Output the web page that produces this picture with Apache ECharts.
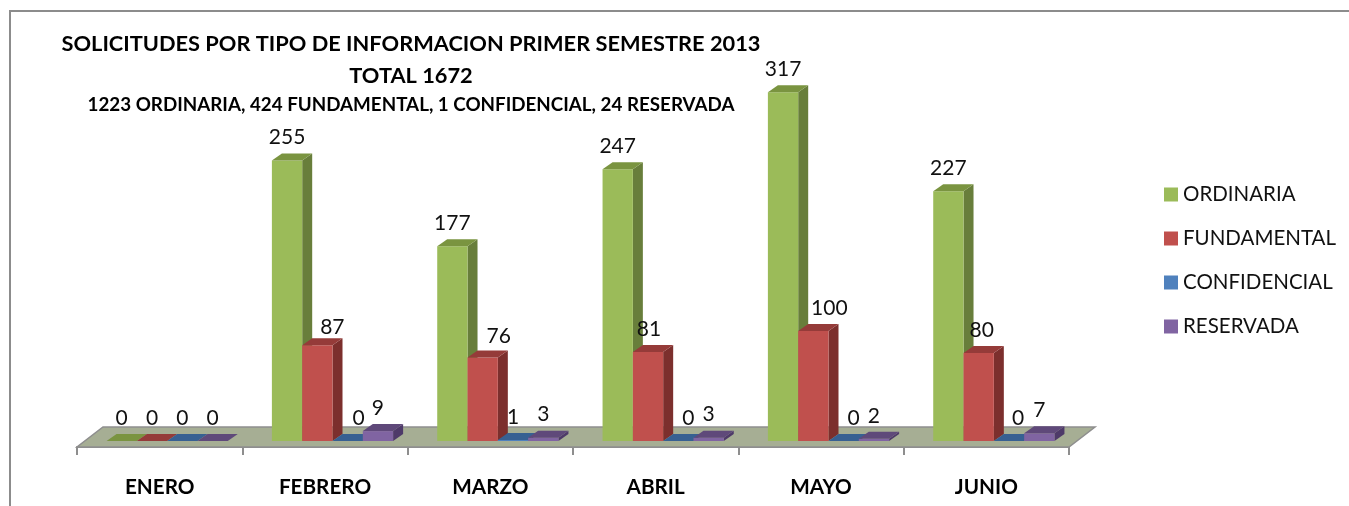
<!DOCTYPE html>
<html>
<head>
<meta charset="utf-8">
<title>Solicitudes</title>
<script src="https://cdn.jsdelivr.net/npm/echarts@6/dist/echarts.min.js"></script>
<style>
html,body{margin:0;padding:0;background:#fff;}
#chart{width:1349px;height:506px;}
</style>
</head>
<body>
<div id="chart"></div>
<script>
var meses=["ENERO","FEBRERO","MARZO","ABRIL","MAYO","JUNIO"];
var nombres=["ORDINARIA","FUNDAMENTAL","CONFIDENCIAL","RESERVADA"];
var ordinaria=[0,255,177,247,317,227];
var fundamental=[0,87,76,81,100,80];
var confidencial=[0,0,1,0,0,0];
var reservada=[0,9,3,3,2,7];
var valores=[ordinaria,fundamental,confidencial,reservada];

var frente=["#9BBB59","#C0504D","#4F81BD","#8064A2"];
var arriba=["#7A9440","#953B39","#376092","#5F497A"];
var lado=["#687E3B","#7C2F2D","#2F5178","#4E3A69"];

//etiquetas que en el original estan movidas a mano
var moverEtiqueta={"1_1":[15,5],"1_2":[16,2],"1_3":[1,0],"1_4":[16,0],"1_5":[3,0],
                   "2_1":[11,0],"2_3":[10,0],"2_4":[10,0],"2_5":[9,0]};

var fuente="Lato";
var fondoX=26, fondoY=20;     //fondo del piso
var barraX=10, barraY=7;      //fondo de cada barra
var frenteX=7.5, frenteY=6;   //donde empieza la barra sobre el piso

function dibujarBarra(s){
    return function(params,api){
        var i=api.value(0);
        var v=api.value(1);
        var base=api.coord([i,0]);
        var punta=api.coord([i,v]);
        var ancho=api.size([1,0])[0]*0.1833;
        var x0=base[0]+frenteX+(s-2)*ancho;
        var x1=x0+ancho;
        var y0=base[1]-frenteY;
        var y1=punta[1]-frenteY;
        var hijos=[];
        if(v>0){
            hijos.push({type:"polygon",shape:{points:[[x1,y0],[x1+barraX,y0-barraY],[x1+barraX,y1-barraY],[x1,y1]]},style:{fill:lado[s]}});
            hijos.push({type:"rect",shape:{x:x0,y:y1,width:ancho,height:y0-y1},style:{fill:frente[s]}});
        }
        hijos.push({type:"polygon",shape:{points:[[x0,y1],[x1,y1],[x1+barraX,y1-barraY],[x0+barraX,y1-barraY]]},style:{fill:arriba[s]}});
        var mover=moverEtiqueta[s+"_"+i]||[0,0];
        hijos.push({type:"text",z2:50,style:{text:String(v),x:(x0+x1)/2+mover[0],y:y1-23+mover[1],align:"center",verticalAlign:"middle",fill:"#111",font:"21px "+fuente}});
        return {type:"group",children:hijos};
    };
}

function dibujarPiso(params,api){
    var c=params.coordSys;
    var izq=c.x, der=c.x+c.width, abajo=c.y+c.height;
    return {type:"polygon",shape:{points:[[izq,abajo],[der,abajo],[der+fondoX,abajo-fondoY],[izq+fondoX,abajo-fondoY]]},
            style:{fill:"#A6AE94",stroke:"#8E8E8E",lineWidth:1.5}};
}

var series=[{type:"custom",name:"piso",renderItem:dibujarPiso,data:[[0,0]],silent:true,clip:false,z:1}];
for(var s=0;s<4;s++){
    var datos=[];
    for(var i=0;i<meses.length;i++){
        datos.push([i,valores[s][i]]);
    }
    series.push({
        type:"custom",
        name:nombres[s],
        renderItem:dibujarBarra(s),
        data:datos,
        clip:false,
        z:2+s,
        itemStyle:{color:frente[s]}
    });
}

var myChart=echarts.init(document.getElementById("chart"));
var option={
    animation:false,
    backgroundColor:"#fff",
    title:[
        {text:"SOLICITUDES POR TIPO DE INFORMACION PRIMER SEMESTRE 2013",left:406,top:28,textAlign:"center",textStyle:{fontFamily:fuente,fontSize:21.8,fontWeight:"bold",color:"#000"}},
        {text:"TOTAL 1672",left:406,top:60,textAlign:"center",textStyle:{fontFamily:fuente,fontSize:21.8,fontWeight:"bold",color:"#000"}},
        {text:"1223 ORDINARIA, 424 FUNDAMENTAL, 1 CONFIDENCIAL, 24 RESERVADA",left:406,top:90,textAlign:"center",textStyle:{fontFamily:fuente,fontSize:18.8,fontWeight:"bold",color:"#000"}}
    ],
    legend:{
        data:nombres,
        orient:"vertical",
        left:1159,
        top:179,
        itemWidth:14,
        itemHeight:14,
        itemGap:23,
        icon:"rect",
        textStyle:{fontFamily:fuente,fontSize:20.5,color:"#111"}
    },
    grid:{left:77,top:7,width:992,height:440},
    xAxis:{
        type:"category",
        data:meses,
        axisLine:{show:true,lineStyle:{color:"#8E8E8E",width:2}},
        axisTick:{show:true,length:8,lineStyle:{color:"#8E8E8E",width:2}},
        axisLabel:{margin:30,fontFamily:fuente,fontSize:20.7,fontWeight:"bold",color:"#000"}
    },
    yAxis:{type:"value",min:0,max:400,show:false,splitLine:{show:false}},
    graphic:[{
        type:"polyline",
        silent:true,
        shape:{points:[[10,506],[10,11],[1349,11]]},
        style:{stroke:"#8C8C8C",lineWidth:2,fill:null}
    }],
    series:series
};
myChart.setOption(option);
</script>
</body>
</html>
